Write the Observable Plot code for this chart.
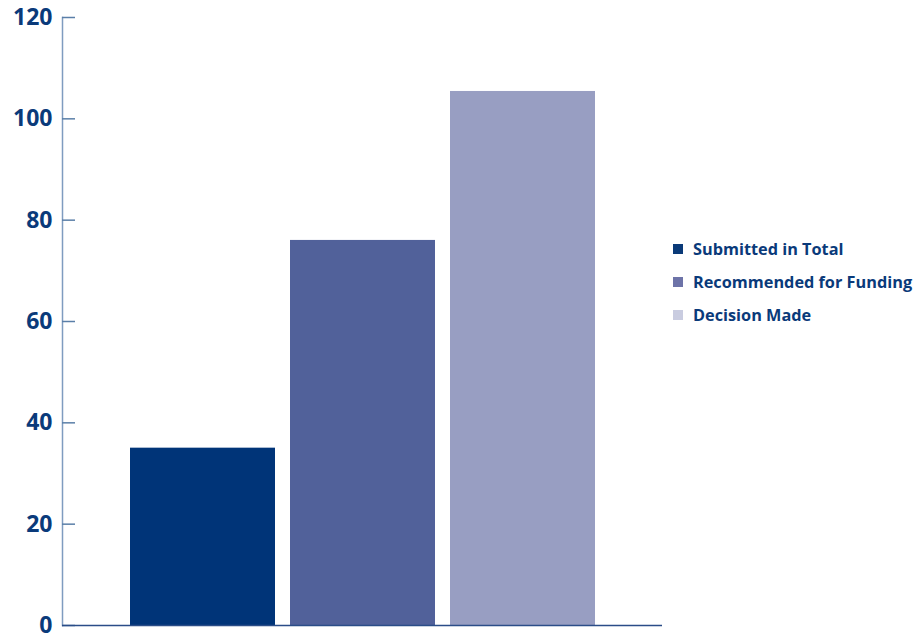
<!DOCTYPE html>
<html>
<head>
<meta charset="utf-8">
<script src="https://cdn.jsdelivr.net/npm/d3@7"></script>
<script src="https://cdn.jsdelivr.net/npm/@observablehq/plot@0.6"></script>
<style>
  html, body { margin: 0; padding: 0; background: #fff; }
  #wrap { position: relative; width: 916px; height: 636px; font-family: "Open Sans", sans-serif; }
  #legend { position: absolute; left: 673px; top: 232px; }
  .item { display: flex; align-items: center; height: 33px; font-weight: 700; font-size: 16.3px; color: #0a3a7a; white-space: nowrap; }
  .sw { width: 10px; height: 10px; margin-right: 10px; }
  svg text { font-family: "Open Sans", sans-serif; }
</style>
</head>
<body>
<div id="wrap"><div id="legend"></div></div>
<script>
const categories = ["Submitted in Total", "Recommended for Funding", "Decision Made"];
const values = [35, 76, 105.4];
const barColors = ["#003478", "#51619a", "#989ec2"];
const legendColors = ["#0a3a78", "#6d73a8", "#c9cce0"];
const yTicks = [0, 20, 40, 60, 80, 100, 120];

const data = categories.map((c, i) => ({category: c, value: values[i]}));

const chart = Plot.plot({
  width: 916,
  height: 636,
  marginTop: 17,
  marginBottom: 11,
  marginLeft: 62,
  marginRight: 254,
  style: {background: "#fff", overflow: "visible"},
  x: {domain: categories, range: [115, 610], padding: 0.09375, axis: null},
  y: {domain: [0, 120]},
  color: {domain: categories, range: barColors},
  marks: [
    Plot.barY(data, {x: "category", y: "value", fill: "category"}),
    Plot.frame({anchor: "left", stroke: "#7f9cc0", strokeWidth: 1.5}),
    Plot.axisY({ticks: yTicks, tickSize: -13, tickFormat: () => "", stroke: "#5a7fa8", strokeWidth: 1.5, label: null}),
    Plot.axisY({ticks: yTicks, tickSize: 0, tickPadding: 10, fontSize: 23, fontWeight: 700, fill: "#0a3a7a", label: null}),
    Plot.ruleY([0], {stroke: "#2b4d88", strokeWidth: 1.5})
  ]
});
document.getElementById("wrap").prepend(chart);

const legend = document.getElementById("legend");
categories.forEach((c, i) => {
  const it = document.createElement("div");
  it.className = "item";
  it.innerHTML = `<span class="sw" style="background:${legendColors[i]}"></span><span>${c}</span>`;
  legend.appendChild(it);
});
</script>
</body>
</html>
